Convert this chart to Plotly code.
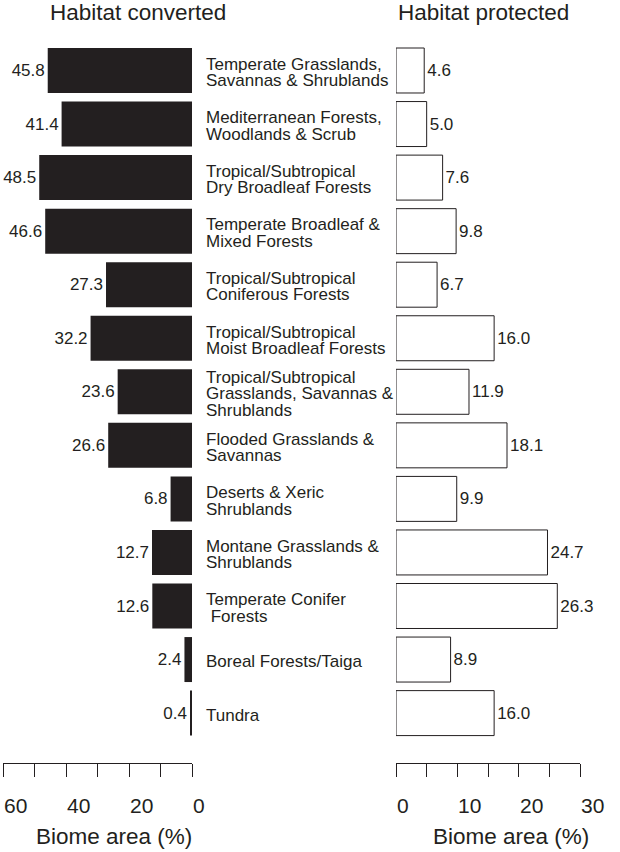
import plotly.graph_objects as go

categories = [
    "Temperate Grasslands,<br>Savannas & Shrublands",
    "Mediterranean Forests,<br>Woodlands & Scrub",
    "Tropical/Subtropical<br>Dry Broadleaf Forests",
    "Temperate Broadleaf &<br>Mixed Forests",
    "Tropical/Subtropical<br>Coniferous Forests",
    "Tropical/Subtropical<br>Moist Broadleaf Forests",
    "Tropical/Subtropical<br>Grasslands, Savannas &<br>Shrublands",
    "Flooded Grasslands &<br>Savannas",
    "Deserts & Xeric<br>Shrublands",
    "Montane Grasslands &<br>Shrublands",
    "Temperate Conifer<br> Forests",
    "Boreal Forests/Taiga",
    "Tundra",
]
converted = [45.8, 41.4, 48.5, 46.6, 27.3, 32.2, 23.6, 26.6, 6.8, 12.7, 12.6, 2.4, 0.4]
protected = [4.6, 5.0, 7.6, 9.8, 6.7, 16.0, 11.9, 18.1, 9.9, 24.7, 26.3, 8.9, 16.0]

left_ticks = [0, 10, 20, 30, 40, 50, 60]
left_label_vals = [60, 40, 20, 0]
right_ticks = [0, 5, 10, 15, 20, 25, 30]
right_label_vals = [0, 10, 20, 30]

W, H = 620, 852
INK = "#231f20"
FONT = "Liberation Sans, Arial, Helvetica, sans-serif"

fig = go.Figure()
fig.add_trace(go.Bar(
    y=categories, x=converted, orientation="h",
    marker=dict(color=INK, line=dict(width=0)),
    texttemplate="%{x:.1f}", textposition="outside",
    textfont=dict(size=17, color=INK, family=FONT),
    cliponaxis=False, constraintext="none",
    xaxis="x", yaxis="y", hoverinfo="skip",
))
fig.add_trace(go.Bar(
    y=categories, x=protected, orientation="h",
    marker=dict(color="white", line=dict(width=1, color=INK)),
    texttemplate="%{x:.1f}", textposition="outside",
    textfont=dict(size=17, color=INK, family=FONT),
    cliponaxis=False, constraintext="none",
    xaxis="x2", yaxis="y2", hoverinfo="skip",
))

top, bottom = 44, 763
n = len(categories)
unit = 53.55
y_lo = -(70.5 - top) / unit
y_hi = y_lo + (bottom - top) / unit
yrange = [y_hi, y_lo]

axis_common = dict(
    showline=True, linecolor=INK, linewidth=1.2,
    ticks="outside", ticklen=13, tickwidth=1.2, tickcolor=INK,
    showgrid=False, zeroline=False, showticklabels=False,
    automargin=False, fixedrange=True,
)

fig.update_layout(
    width=W, height=H,
    margin=dict(l=0, r=0, t=top, b=H - bottom, autoexpand=False),
    paper_bgcolor="white", plot_bgcolor="white",
    showlegend=False, bargap=0.16,
    font=dict(family=FONT, color=INK),
    xaxis=dict(domain=[3 / W, 192 / W], range=[60, 0],
               tickvals=left_ticks, **axis_common),
    xaxis2=dict(domain=[396 / W, 580 / W], range=[0, 30],
                tickvals=right_ticks, **axis_common),
    yaxis=dict(range=yrange, visible=False, fixedrange=True, automargin=False),
    yaxis2=dict(range=yrange, visible=False, anchor="x2", matches="y",
                fixedrange=True, automargin=False),
)

ph = bottom - top
def py(pix):
    return (bottom - pix) / ph

ann = []
LH = 16.5
for c in categories:
    lines = c.split("<br>")
    k = len(lines)
    for i, ln in enumerate(lines):
        ann.append(dict(x=204 / W, xref="paper", y=c, yref="y", text=ln,
                        showarrow=False, xanchor="left", yanchor="middle", align="left",
                        yshift=((k - 1) / 2 - i) * LH - 2,
                        font=dict(size=17, color=INK, family=FONT)))

for v in left_label_vals:
    ann.append(dict(x=v, xref="x", y=py(805), yref="paper", text=str(v),
                    showarrow=False, xanchor="left", yanchor="middle",
                    xshift=-1, font=dict(size=21, color=INK, family=FONT)))
for v in right_label_vals:
    ann.append(dict(x=v, xref="x2", y=py(805), yref="paper", text=str(v),
                    showarrow=False, xanchor="left", yanchor="middle",
                    xshift=-1, font=dict(size=21, color=INK, family=FONT)))

ann.append(dict(x=48 / W, xref="paper", y=py(12), yref="paper", text="Habitat converted",
                showarrow=False, xanchor="left", yanchor="middle",
                font=dict(size=22.5, color=INK, family=FONT)))
ann.append(dict(x=396 / W, xref="paper", y=py(12), yref="paper", text="Habitat protected",
                showarrow=False, xanchor="left", yanchor="middle",
                font=dict(size=22.5, color=INK, family=FONT)))
ann.append(dict(x=113.5 / W, xref="paper", y=py(836), yref="paper", text="Biome area (%)",
                showarrow=False, xanchor="center", yanchor="middle",
                font=dict(size=22.5, color=INK, family=FONT)))
ann.append(dict(x=510.5 / W, xref="paper", y=py(836), yref="paper", text="Biome area (%)",
                showarrow=False, xanchor="center", yanchor="middle",
                font=dict(size=22.5, color=INK, family=FONT)))
fig.update_layout(annotations=ann)

fig.write_html("out.html")
